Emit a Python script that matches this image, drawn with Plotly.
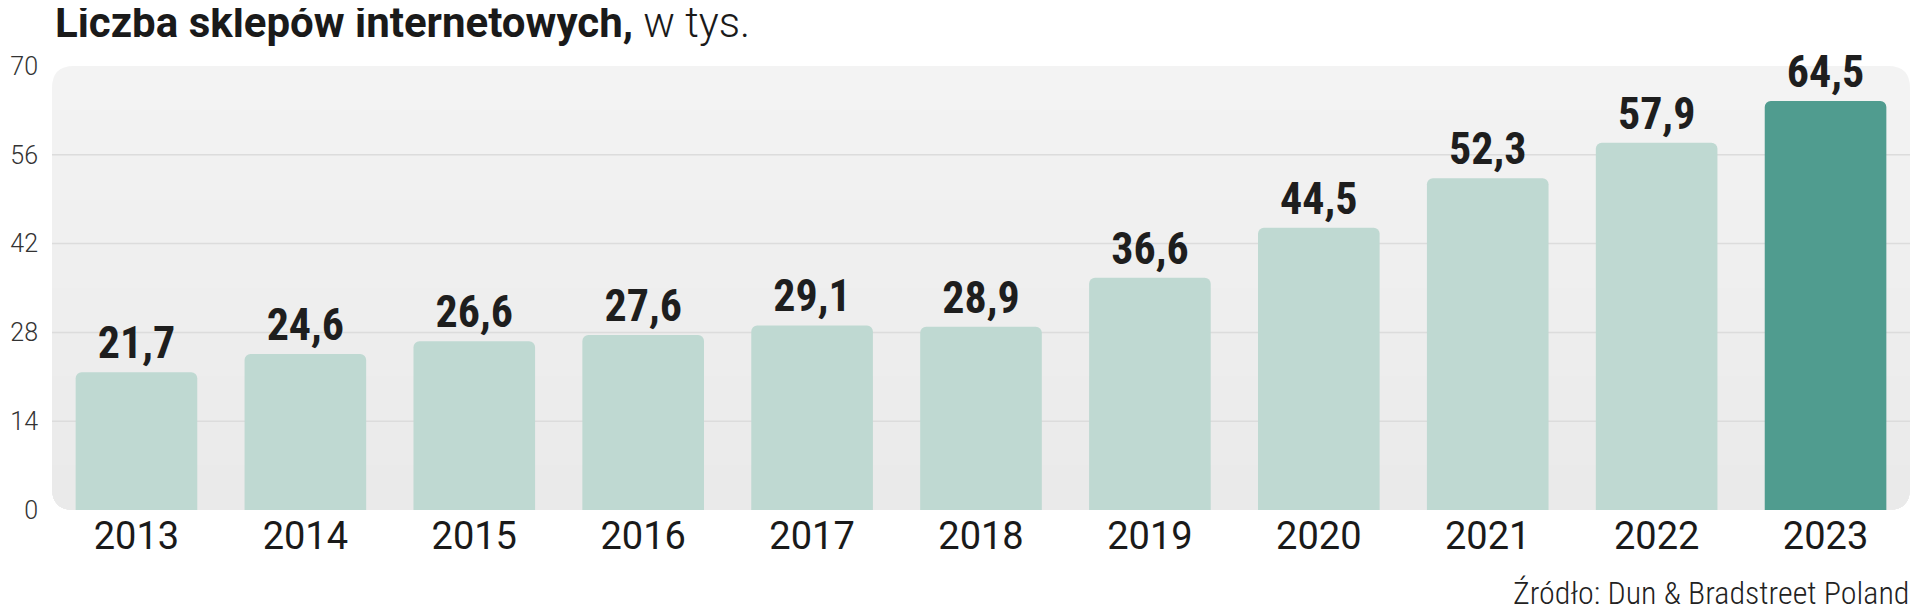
import plotly.graph_objects as go

years = ["2013", "2014", "2015", "2016", "2017", "2018", "2019", "2020", "2021", "2022", "2023"]
shops = [21.7, 24.6, 26.6, 27.6, 29.1, 28.9, 36.6, 44.5, 52.3, 57.9, 64.5]
y_ticks = [0, 14, 28, 42, 56, 70]
grid_vals = [14, 28, 42, 56]

LIGHT = "#bfd9d2"
DARK = "#509c8f"
colors = [LIGHT] * (len(years) - 1) + [DARK]
labels = [f"{v:.1f}".replace(".", ",") for v in shops]

NARROW = "Roboto Condensed, DejaVu Sans Condensed, Liberation Sans"

# page body has an 8px default margin: figure coordinates = screen - 8
OFF = 8
W, H = 1920 - 2 * OFF, 613 - 2 * OFF
PL, PR, PT, PB = 45 - OFF, 1910 - OFF, 66 - OFF, 510 - OFF
ML, MR, MT, MB = PL, W - PR, PT, H - PB
pw, ph = PR - PL, PB - PT

fig = go.Figure(go.Bar(
    x=years, y=shops,
    marker=dict(color=colors, line=dict(width=0), cornerradius=6),
    text=labels, textposition="outside", cliponaxis=False, constraintext="none",
    textfont=dict(family=NARROW, size=44, color="#1e1e1e", weight="bold"),
    hoverinfo="skip",
))

# rounded background panel with a soft vertical gradient (light top -> darker bottom)
r = 22
rx, ry = r / pw, r / ph
full_path = (f"M {rx},0 L {1-rx},0 Q 1,0 1,{ry} L 1,{1-ry} Q 1,1 {1-rx},1 "
             f"L {rx},1 Q 0,1 0,{1-ry} L 0,{ry} Q 0,0 {rx},0 Z")
shapes = []
top_level, bottom_level = 0xF3, 0xEA
n = top_level - bottom_level + 1
for i in range(n):
    lv = top_level - i
    col = f"rgb({lv},{lv},{lv})"
    if i == 0:
        path = full_path
    else:
        t = 1 - i / n
        path = (f"M 0,{t} L 1,{t} L 1,{ry} Q 1,0 {1-rx},0 L {rx},0 Q 0,0 0,{ry} Z")
    shapes.append(dict(type="path", xref="paper", yref="paper", path=path,
                       fillcolor=col, line=dict(width=0), layer="below"))
for g in grid_vals:
    shapes.append(dict(type="line", xref="paper", yref="y", x0=0, x1=1, y0=g, y1=g,
                       line=dict(color="#dcdcdc", width=1.5), layer="below"))

def py(ypx):
    return (PB - (ypx - OFF)) / ph

def px(xpx):
    return ((xpx - OFF) - PL) / pw

fig.update_layout(
    width=W, height=H,
    margin=dict(l=ML, r=MR, t=MT, b=MB, pad=0),
    paper_bgcolor="white", plot_bgcolor="rgba(0,0,0,0)",
    bargap=0.28, showlegend=False,
    shapes=shapes,
    xaxis=dict(showgrid=False, zeroline=False, showline=False, ticks="",
               tickfont=dict(family="Roboto", size=38, color="#1a1a1a"),
               ticklabelstandoff=0),
    yaxis=dict(range=[0, 70], tickvals=y_ticks, showgrid=False, zeroline=False,
               showline=False, ticks="outside", ticklen=8, tickcolor="rgba(0,0,0,0)",
               tickfont=dict(family="Roboto", size=25, color="#333333", weight=300)),
    annotations=[
        dict(xref="paper", yref="paper", x=px(46), y=py(23), xanchor="left", yanchor="middle",
             showarrow=False,
             text="<b>Liczba sklepów internetowych,</b><span style='font-weight:300'> w tys.</span>",
             font=dict(family="Roboto", size=42, color="#1a1a1a")),
        dict(xref="paper", yref="paper", x=px(1911), y=py(593), xanchor="right", yanchor="middle",
             showarrow=False,
             text="Źródło: Dun &amp; Bradstreet Poland",
             font=dict(family=NARROW, size=32, color="#222222", weight=300)),
    ],
)

fig.write_html("out.html")
